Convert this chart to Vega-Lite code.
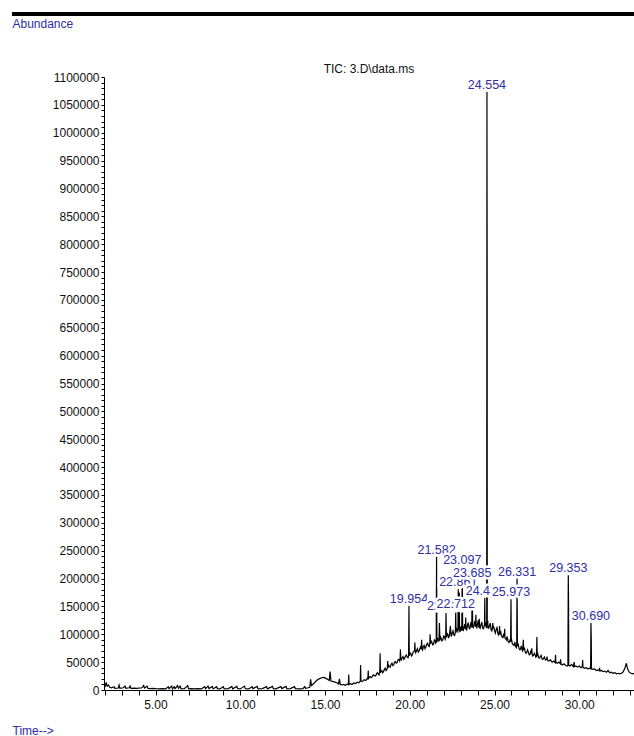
{
"$schema": "https://vega.github.io/schema/vega-lite/v6.json",
"width": 530, "height": 613,
"autosize": {"type": "none"},
"padding": {"left": 104, "top": 77, "right": 0, "bottom": 46},
"background": "white",
"config": {"view": {"stroke": null}, "font": "Liberation Sans", "axis": {"labelOverlap": false, "labelBound": false, "labelFlush": false}},
"title": {"text": "TIC: 3.D\\data.ms", "font": "Liberation Sans", "fontSize": 12, "fontWeight": "normal", "color": "#111111", "anchor": "middle", "offset": -73, "baseline": "alphabetic"},
"datasets": {
"tic": [
{"t":1.97,"a":9000},{"t":2.0,"a":13000},{"t":2.05,"a":8000},{"t":2.1,"a":12000},{"t":2.15,"a":7000},{"t":2.22,"a":9000},{"t":2.3,"a":5000},{"t":2.4,"a":4000},{"t":2.55,"a":6000},{"t":2.6,"a":3000},{"t":2.8,"a":3500},{"t":2.85,"a":9000},{"t":2.9,"a":3000},{"t":3.1,"a":4000},{"t":3.2,"a":7000},{"t":3.25,"a":3000},{"t":3.45,"a":4000},{"t":3.5,"a":7000},{"t":3.55,"a":3000},{"t":3.75,"a":3500},{"t":3.9,"a":3000},{"t":4.2,"a":4000},{"t":4.3,"a":8000},{"t":4.35,"a":3500},{"t":4.5,"a":7000},{"t":4.55,"a":3000},{"t":4.7,"a":2500},{"t":4.85,"a":3000},{"t":5.0,"a":2500},{"t":5.2,"a":2000},{"t":5.4,"a":2500},{"t":5.6,"a":2000},{"t":5.75,"a":6000},{"t":5.8,"a":2500},{"t":5.95,"a":7000},{"t":6.0,"a":2000},{"t":6.1,"a":6000},{"t":6.15,"a":2500},{"t":6.3,"a":8000},{"t":6.35,"a":3000},{"t":6.45,"a":7000},{"t":6.5,"a":2000},{"t":6.7,"a":2500},{"t":6.9,"a":8000},{"t":6.95,"a":2000},{"t":7.1,"a":2500},{"t":7.3,"a":2000},{"t":7.5,"a":2500},{"t":7.7,"a":2000},{"t":7.9,"a":6000},{"t":7.95,"a":2500},{"t":8.1,"a":7000},{"t":8.15,"a":2500},{"t":8.35,"a":6500},{"t":8.4,"a":2000},{"t":8.6,"a":6000},{"t":8.65,"a":2500},{"t":8.8,"a":2000},{"t":9.0,"a":6000},{"t":9.05,"a":2000},{"t":9.3,"a":2500},{"t":9.5,"a":6500},{"t":9.55,"a":2000},{"t":9.8,"a":6500},{"t":9.85,"a":2500},{"t":10.0,"a":2000},{"t":10.25,"a":7000},{"t":10.3,"a":2500},{"t":10.5,"a":2000},{"t":10.7,"a":6000},{"t":10.75,"a":2500},{"t":11.0,"a":6500},{"t":11.05,"a":2000},{"t":11.3,"a":2500},{"t":11.55,"a":6000},{"t":11.6,"a":2000},{"t":11.9,"a":6500},{"t":11.95,"a":2500},{"t":12.1,"a":2000},{"t":12.4,"a":6000},{"t":12.45,"a":2500},{"t":12.7,"a":6500},{"t":12.75,"a":2000},{"t":12.95,"a":2500},{"t":13.2,"a":6000},{"t":13.25,"a":2500},{"t":13.5,"a":2000},{"t":13.7,"a":2500},{"t":13.8,"a":6000},{"t":13.85,"a":3000},{"t":14.0,"a":4000},{"t":14.1,"a":5000},{"t":14.15,"a":19000},{"t":14.2,"a":8000},{"t":14.35,"a":12000},{"t":14.5,"a":17000},{"t":14.65,"a":20000},{"t":14.8,"a":22000},{"t":14.95,"a":22500},{"t":15.1,"a":20000},{"t":15.25,"a":17000},{"t":15.3,"a":33000},{"t":15.35,"a":16000},{"t":15.5,"a":15000},{"t":15.7,"a":13000},{"t":15.8,"a":11000},{"t":15.85,"a":20000},{"t":15.9,"a":10000},
{"t":16.0,"a":9000},{"t":16.1,"a":10000},{"t":16.2,"a":8500},{"t":16.3,"a":10500},{"t":16.38,"a":9500},{"t":16.4,"a":28000},{"t":16.42,"a":10000},{"t":16.5,"a":11500},{"t":16.6,"a":10000},{"t":16.7,"a":12500},{"t":16.8,"a":11500},{"t":16.9,"a":14000},{"t":17.0,"a":13000},{"t":17.08,"a":16000},{"t":17.1,"a":45000},{"t":17.12,"a":16000},{"t":17.2,"a":15000},{"t":17.3,"a":18500},{"t":17.4,"a":17000},{"t":17.5,"a":21000},{"t":17.53,"a":20000},{"t":17.55,"a":35000},{"t":17.57,"a":21000},{"t":17.65,"a":24000},{"t":17.75,"a":22000},{"t":17.85,"a":27000},{"t":17.95,"a":25000},{"t":18.05,"a":30000},{"t":18.15,"a":28000},{"t":18.23,"a":32000},{"t":18.25,"a":66000},{"t":18.27,"a":31000},{"t":18.35,"a":35000},{"t":18.45,"a":33000},{"t":18.55,"a":39000},{"t":18.65,"a":37000},{"t":18.68,"a":40000},{"t":18.7,"a":52000},{"t":18.72,"a":40000},{"t":18.8,"a":42000},{"t":18.9,"a":46000},{"t":19.0,"a":44000},{"t":19.1,"a":50000},{"t":19.2,"a":48000},{"t":19.3,"a":54000},{"t":19.4,"a":52000},{"t":19.43,"a":56000},{"t":19.45,"a":73000},{"t":19.47,"a":56000},{"t":19.55,"a":58000},{"t":19.65,"a":55000},{"t":19.75,"a":61000},{"t":19.85,"a":59000},{"t":19.93,"a":62000},{"t":19.954,"a":151000},{"t":19.97,"a":61000},{"t":20.05,"a":66000},{"t":20.15,"a":63000},{"t":20.25,"a":69000},{"t":20.28,"a":70000},{"t":20.3,"a":85000},{"t":20.32,"a":70000},{"t":20.4,"a":71000},{"t":20.5,"a":68000},{"t":20.6,"a":75000},{"t":20.68,"a":73000},{"t":20.7,"a":90000},{"t":20.72,"a":75000},{"t":20.8,"a":78000},{"t":20.9,"a":74000},{"t":21.0,"a":82000},{"t":21.1,"a":79000},{"t":21.18,"a":84000},{"t":21.2,"a":100000},{"t":21.22,"a":83000},{"t":21.3,"a":86000},{"t":21.4,"a":82000},{"t":21.5,"a":88000},{"t":21.56,"a":85000},{"t":21.582,"a":239000},{"t":21.6,"a":86000},{"t":21.68,"a":90000},{"t":21.75,"a":120000},{"t":21.78,"a":89000},{"t":21.85,"a":93000},{"t":21.95,"a":90000},{"t":22.05,"a":96000},{"t":22.12,"a":94000},{"t":22.139,"a":138000},{"t":22.16,"a":95000},{"t":22.25,"a":99000},{"t":22.32,"a":95000},{"t":22.4,"a":115000},{"t":22.43,"a":98000},{"t":22.5,"a":102000},{"t":22.6,"a":99000},{"t":22.69,"a":104000},{"t":22.712,"a":142000},{"t":22.73,"a":103000},{"t":22.8,"a":107000},{"t":22.84,"a":105000},{"t":22.861,"a":181000},{"t":22.88,"a":108000},{"t":22.9,"a":110000},{"t":22.92,"a":175000},{"t":22.94,"a":108000},{"t":23.0,"a":112000},{"t":23.07,"a":106000},{"t":23.097,"a":220000},{"t":23.12,"a":108000},{"t":23.2,"a":113000},{"t":23.28,"a":109000},{"t":23.3,"a":130000},{"t":23.32,"a":110000},{"t":23.4,"a":116000},{"t":23.5,"a":111000},{"t":23.58,"a":117000},{"t":23.66,"a":112000},{"t":23.685,"a":197000},{"t":23.71,"a":114000},{"t":23.8,"a":118000},{"t":23.88,"a":113000},{"t":23.9,"a":135000},{"t":23.92,"a":114000},{"t":24.0,"a":119000},{"t":24.08,"a":112000},{"t":24.1,"a":128000},{"t":24.12,"a":113000},{"t":24.2,"a":117000},{"t":24.3,"a":111000},{"t":24.4,"a":116000},{"t":24.41,"a":118000},{"t":24.427,"a":165000},{"t":24.44,"a":115000},{"t":24.5,"a":113000},{"t":24.54,"a":112000},{"t":24.554,"a":1073000},{"t":24.566,"a":770000},{"t":24.572,"a":118000},{"t":24.62,"a":112000},{"t":24.7,"a":115000},{"t":24.8,"a":108000},{"t":24.88,"a":112000},{"t":24.9,"a":120000},{"t":24.92,"a":110000},{"t":25.0,"a":106000},{"t":25.1,"a":109000},{"t":25.2,"a":101000},{"t":25.28,"a":104000},{"t":25.3,"a":115000},{"t":25.32,"a":100000},{"t":25.4,"a":98000},{"t":25.5,"a":94000},{"t":25.58,"a":96000},{"t":25.6,"a":110000},{"t":25.62,"a":93000},{"t":25.7,"a":90000},{"t":25.8,"a":87000},{"t":25.9,"a":89000},{"t":25.95,"a":86000},{"t":25.973,"a":163000},{"t":25.99,"a":88000},{"t":26.05,"a":83000},{"t":26.15,"a":80000},{"t":26.25,"a":78000},{"t":26.31,"a":80000},{"t":26.331,"a":200000},{"t":26.35,"a":80000},{"t":26.45,"a":74000},{"t":26.55,"a":76000},{"t":26.62,"a":72000},{"t":26.7,"a":90000},{"t":26.72,"a":72000},{"t":26.8,"a":70000},{"t":26.9,"a":67000},{"t":27.0,"a":68000},{"t":27.1,"a":64000},{"t":27.18,"a":66000},{"t":27.2,"a":75000},{"t":27.22,"a":64000},{"t":27.3,"a":62000},{"t":27.4,"a":63000},{"t":27.48,"a":60000},{"t":27.5,"a":95000},{"t":27.52,"a":61000},{"t":27.6,"a":58000},{"t":27.7,"a":60000},{"t":27.8,"a":56000},{"t":27.9,"a":57000},{"t":28.0,"a":54000},{"t":28.08,"a":55000},{"t":28.1,"a":60000},{"t":28.12,"a":54000},{"t":28.2,"a":52000},{"t":28.3,"a":54000},{"t":28.4,"a":50000},{"t":28.5,"a":52000},{"t":28.58,"a":49000},{"t":28.6,"a":63000},{"t":28.62,"a":50000},{"t":28.7,"a":48000},{"t":28.8,"a":50000},{"t":28.88,"a":47000},{"t":28.9,"a":55000},{"t":28.92,"a":47000},{"t":29.0,"a":45000},{"t":29.1,"a":47000},{"t":29.2,"a":44000},{"t":29.3,"a":43000},{"t":29.33,"a":44000},{"t":29.353,"a":206000},{"t":29.37,"a":150000},{"t":29.38,"a":44000},{"t":29.45,"a":43000},{"t":29.55,"a":46000},{"t":29.65,"a":42000},{"t":29.7,"a":50000},{"t":29.72,"a":42000},{"t":29.8,"a":43000},{"t":29.9,"a":41000},{"t":30.0,"a":43000},{"t":30.1,"a":40000},{"t":30.18,"a":42000},{"t":30.2,"a":54000},{"t":30.22,"a":41000},{"t":30.3,"a":39000},{"t":30.4,"a":40000},{"t":30.5,"a":38000},{"t":30.6,"a":39000},{"t":30.67,"a":38000},{"t":30.69,"a":120000},{"t":30.71,"a":90000},{"t":30.72,"a":38000},{"t":30.8,"a":37000},{"t":30.9,"a":38000},{"t":31.0,"a":35000},{"t":31.1,"a":36000},{"t":31.18,"a":35000},{"t":31.2,"a":40000},{"t":31.22,"a":34000},{"t":31.3,"a":35000},{"t":31.4,"a":33000},{"t":31.5,"a":34000},{"t":31.6,"a":32000},{"t":31.7,"a":35000},{"t":31.8,"a":31000},{"t":31.9,"a":32000},{"t":32.0,"a":30000},{"t":32.1,"a":31000},{"t":32.2,"a":29000},{"t":32.3,"a":30000},{"t":32.4,"a":29000},{"t":32.5,"a":30000},{"t":32.6,"a":33000},{"t":32.7,"a":40000},{"t":32.78,"a":48000},{"t":32.85,"a":38000},{"t":32.95,"a":32000},{"t":33.05,"a":30000},{"t":33.15,"a":29000},{"t":33.23,"a":30000},
{"t":18.0,"a":26000},{"t":18.1,"a":31000},{"t":18.19,"a":27000},{"t":18.31,"a":34000},{"t":18.4,"a":31000},{"t":18.5,"a":37000},{"t":18.6,"a":35000},{"t":18.76,"a":44000},{"t":18.85,"a":41000},{"t":18.95,"a":48000},{"t":19.05,"a":45000},{"t":19.15,"a":51000},{"t":19.25,"a":49000},{"t":19.35,"a":55000},{"t":19.5,"a":54000},{"t":19.6,"a":60000},{"t":19.7,"a":57000},{"t":19.8,"a":63000},{"t":19.9,"a":58000},{"t":20.0,"a":67000},{"t":20.1,"a":61000},{"t":20.2,"a":68000},{"t":20.35,"a":67000},{"t":20.45,"a":74000},{"t":20.55,"a":70000},{"t":20.65,"a":78000},{"t":20.76,"a":72000},{"t":20.85,"a":80000},{"t":20.95,"a":77000},{"t":21.05,"a":84000},{"t":21.15,"a":78000},{"t":21.26,"a":88000},{"t":21.35,"a":81000},{"t":21.45,"a":90000},{"t":21.53,"a":84000},{"t":21.64,"a":92000},{"t":21.72,"a":87000},{"t":21.82,"a":95000},{"t":21.9,"a":88000},{"t":22.0,"a":97000},{"t":22.09,"a":91000},{"t":22.21,"a":101000},{"t":22.28,"a":94000},{"t":22.36,"a":104000},{"t":22.47,"a":97000},{"t":22.55,"a":106000},{"t":22.65,"a":98000},{"t":22.76,"a":110000},{"t":22.97,"a":104000},{"t":23.04,"a":114000},{"t":23.16,"a":107000},{"t":23.24,"a":118000},{"t":23.36,"a":108000},{"t":23.45,"a":121000},{"t":23.54,"a":110000},{"t":23.62,"a":122000},{"t":23.75,"a":112000},{"t":23.84,"a":124000},{"t":23.96,"a":112000},{"t":24.04,"a":125000},{"t":24.15,"a":111000},{"t":24.25,"a":122000},{"t":24.35,"a":110000},{"t":24.47,"a":121000},{"t":24.6,"a":124000},{"t":24.66,"a":111000},{"t":24.75,"a":120000},{"t":24.84,"a":106000},{"t":24.96,"a":114000},{"t":25.05,"a":102000},{"t":25.15,"a":112000},{"t":25.24,"a":99000},{"t":25.36,"a":106000},{"t":25.45,"a":95000},{"t":25.54,"a":101000},{"t":25.66,"a":92000},{"t":25.75,"a":96000},{"t":25.85,"a":85000},{"t":26.0,"a":92000},{"t":26.1,"a":81000},{"t":26.2,"a":86000},{"t":26.28,"a":76000},{"t":26.4,"a":82000},{"t":26.5,"a":72000},{"t":26.58,"a":79000},{"t":26.66,"a":70000},{"t":26.76,"a":76000},{"t":26.85,"a":66000},{"t":26.95,"a":72000},{"t":27.05,"a":63000},{"t":27.14,"a":69000},{"t":27.26,"a":61000},{"t":27.35,"a":66000},{"t":27.44,"a":59000},{"t":27.56,"a":64000},{"t":27.65,"a":57000},{"t":27.75,"a":62000},{"t":27.85,"a":55000},{"t":27.95,"a":59000}
],
"peaks": [
{"t":19.954,"a":151000,"label":"19.954","layer":["halo","text"]},
{"t":21.582,"a":239000,"label":"21.582","layer":["halo","text"]},
{"t":22.139,"a":138000,"label":"22.139","layer":["halo","text"]},
{"t":22.712,"a":142000,"label":"22.712","layer":["halo","text"]},
{"t":22.861,"a":181000,"label":"22.861","layer":["halo","text"]},
{"t":23.097,"a":220000,"label":"23.097","layer":["halo","text"]},
{"t":23.685,"a":197000,"label":"23.685","layer":["halo","text"]},
{"t":24.427,"a":165000,"label":"24.427","layer":["halo","text"]},
{"t":24.554,"a":1073000,"label":"24.554","layer":["halo","text"]},
{"t":25.973,"a":163000,"label":"25.973","layer":["halo","text"]},
{"t":26.331,"a":200000,"label":"26.331","layer":["halo","text"]},
{"t":29.353,"a":206000,"label":"29.353","layer":["halo","text"]},
{"t":30.69,"a":120000,"label":"30.690","layer":["halo","text"]}
]
},
"layer": [
{
"data": {"name": "tic"},
"mark": {"type": "line", "color": "black", "strokeWidth": 1.2, "clip": true},
"encoding": {
"x": {"field": "t", "type": "quantitative",
"scale": {"domain": [1.96, 33.23], "nice": false, "zero": false},
"axis": {"values": [2,3,4,5,6,7,8,9,10,11,12,13,14,15,16,17,18,19,20,21,22,23,24,25,26,27,28,29,30,31,32,33],
"tickCount": 500,
"labelExpr": "datum.value % 5 === 0 ? format(datum.value, '.2f') : ''",
"labelOverlap": false, "labelFlush": false, "labelBound": false, "grid": false,
"tickSize": 5, "tickColor": "black", "tickWidth": 1, "domainColor": "black", "domainWidth": 1,
"labelFont": "Liberation Sans", "labelFontSize": 12, "labelColor": "#111111", "labelPadding": 4,
"title": "Time-->", "titleFont": "Liberation Sans", "titleFontSize": 12, "titleFontWeight": "normal", "titleColor": "#2e2ea6",
"titleX": -92, "titleY": 44, "titleAlign": "left", "titleAnchor": "start", "titleBaseline": "alphabetic"}},
"y": {"field": "a", "type": "quantitative",
"scale": {"domain": [0, 1100000], "nice": false},
"axis": {"values": [0,10000,20000,30000,40000,50000,60000,70000,80000,90000,100000,110000,120000,130000,140000,150000,160000,170000,180000,190000,200000,210000,220000,230000,240000,250000,260000,270000,280000,290000,300000,310000,320000,330000,340000,350000,360000,370000,380000,390000,400000,410000,420000,430000,440000,450000,460000,470000,480000,490000,500000,510000,520000,530000,540000,550000,560000,570000,580000,590000,600000,610000,620000,630000,640000,650000,660000,670000,680000,690000,700000,710000,720000,730000,740000,750000,760000,770000,780000,790000,800000,810000,820000,830000,840000,850000,860000,870000,880000,890000,900000,910000,920000,930000,940000,950000,960000,970000,980000,990000,1000000,1010000,1020000,1030000,1040000,1050000,1060000,1070000,1080000,1090000,1100000],
"tickCount": 500,
"labelExpr": "datum.value % 50000 === 0 ? format(datum.value, 'd') : ''",
"labelOverlap": false, "labelFlush": false, "labelBound": false, "grid": false,
"tickSize": 3, "tickColor": "black", "tickWidth": 1, "domainColor": "black", "domainWidth": 1,
"labelFont": "Liberation Sans", "labelFontSize": 12, "labelColor": "#111111", "labelPadding": 2,
"title": "Abundance", "titleFont": "Liberation Sans", "titleFontSize": 12, "titleFontWeight": "normal", "titleColor": "#2e2ea6",
"titleAngle": 0, "titleX": -92, "titleY": -50, "titleAlign": "left", "titleAnchor": "start", "titleBaseline": "alphabetic"}}
}
},
{
"data": {"name": "peaks"},
"transform": [{"flatten": ["layer"]}],
"mark": {"type": "text", "font": "Liberation Sans", "fontSize": 12.5, "align": "center", "baseline": "alphabetic", "dy": -3, "stroke": "white", "strokeJoin": "round"},
"encoding": {
"x": {"field": "t", "type": "quantitative"},
"y": {"field": "a", "type": "quantitative"},
"text": {"field": "label", "type": "nominal"},
"fill": {"field": "layer", "type": "nominal", "scale": {"domain": ["halo", "text"], "range": ["white", "#2e2ea6"]}, "legend": null},
"strokeWidth": {"field": "layer", "type": "nominal", "scale": {"domain": ["halo", "text"], "range": [5, 0]}, "legend": null}
}
},
{
"data": {"values": [{}]},
"mark": {"type": "rule", "color": "black", "strokeWidth": 4, "clip": false},
"encoding": {"x": {"datum": -3.47}, "x2": {"datum": 33.23}, "y": {"datum": 1213000}}
}
]
}
